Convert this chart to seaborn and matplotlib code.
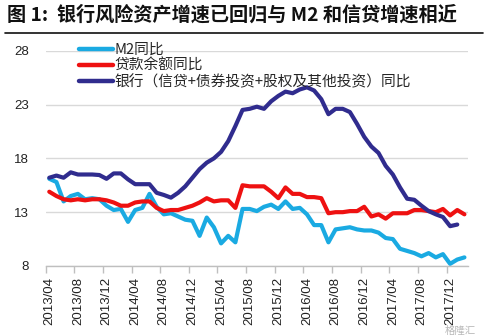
import numpy as np
import pandas as pd
import matplotlib
matplotlib.use("Agg")
import matplotlib.pyplot as plt
import seaborn as sns

# Monthly series, 2013/04 - 2018/02 (percent, year over year)
start_month = "2013-04"
end_month = "2018-02"

m2_yoy = [16.1, 15.8, 14.0, 14.5, 14.7, 14.2, 14.3, 14.2, 13.6, 13.2, 13.3, 12.1,
          13.2, 13.4, 14.7, 13.5, 12.8, 12.9, 12.6, 12.3, 12.2, 10.8, 12.5, 11.6,
          10.1, 10.8, 10.2, 13.3, 13.3, 13.1, 13.5, 13.7, 13.3, 14.0, 13.3, 13.4,
          12.8, 11.8, 11.8, 10.2, 11.4, 11.5, 11.6, 11.4, 11.3, 11.3, 11.1, 10.6,
          10.5, 9.6, 9.4, 9.2, 8.9, 9.2, 8.8, 9.1, 8.2, 8.6, 8.8]

loan_yoy = [14.9, 14.5, 14.2, 14.1, 14.2, 14.1, 14.2, 14.2, 14.1, 13.9, 13.6, 13.6,
            13.9, 14.0, 14.0, 13.4, 13.1, 13.2, 13.2, 13.4, 13.6, 13.9, 14.3, 14.0,
            14.1, 14.1, 13.4, 15.5, 15.4, 15.4, 15.4, 14.9, 14.3, 15.3, 14.7, 14.7,
            14.4, 14.4, 14.3, 12.9, 13.0, 13.0, 13.1, 13.1, 13.5, 12.6, 12.8, 12.4,
            12.9, 12.9, 12.9, 13.2, 13.2, 13.1, 13.0, 13.3, 12.7, 13.2, 12.8]

bank_assets_yoy = [16.2, 16.4, 16.2, 16.7, 16.5, 16.5, 16.5, 16.45, 16.1, 16.6, 16.6, 16.05,
                   15.6, 15.6, 15.6, 14.8, 14.6, 14.35, 14.8, 15.4, 16.2, 17.0, 17.6, 18.0,
                   18.6, 19.6, 21.0, 22.5, 22.6, 22.8, 22.6, 23.3, 23.8, 24.2, 24.05, 24.4,
                   24.6, 24.3, 23.5, 22.1, 22.6, 22.6, 22.3, 21.2, 20.0, 19.1, 18.5, 17.3,
                   16.5, 15.3, 14.25, 14.15, 13.6, 13.1, 12.8, 12.55, 11.7, 11.85]

series_names = ["M2同比", "贷款余额同比", "银行（信贷+债券投资+股权及其他投资）同比"]
series_colors = ["#1AAAE2", "#EE1111", "#302C8E"]
y_ticks = [8, 13, 18, 23, 28]
title_text = "图 1:  银行风险资产增速已回归与 M2 和信贷增速相近"

months = pd.period_range(start_month, end_month, freq="M")
month_labels = [p.strftime("%Y/%m") for p in months]

frames = []
for name, vals in zip(series_names, [m2_yoy, loan_yoy, bank_assets_yoy]):
    frames.append(pd.DataFrame({"idx": np.arange(len(vals)), "value": vals, "series": name}))
df = pd.concat(frames, ignore_index=True)

sns.set_theme(style="white")
plt.rcParams["font.family"] = ["Noto Sans CJK SC", "DejaVu Sans"]

fig = plt.figure(figsize=(4.85, 3.36), dpi=100)
ax = fig.add_axes([45.7 / 485, 1 - 266 / 336, (468 - 45.7) / 485, (266 - 50.7) / 336])

sns.lineplot(data=df, x="idx", y="value", hue="series", hue_order=series_names,
             palette=series_colors, linewidth=3.0, ax=ax, legend=False,
             solid_capstyle="round", solid_joinstyle="round")

ax.set_xlim(-0.5, len(months) - 0.5)
ax.set_ylim(8, 28)
ax.set_yticks(y_ticks)
ax.yaxis.grid(True, color="#D9D9D9", linewidth=1.0)
ax.set_axisbelow(True)
for s in ["left", "right", "top"]:
    ax.spines[s].set_visible(False)
ax.spines["bottom"].set_color("#BFBFBF")
ax.spines["bottom"].set_linewidth(1.0)

label_pos = np.arange(0, len(months), 4)
ax.set_xticks(label_pos)
ax.set_xticklabels([month_labels[i] for i in label_pos], rotation=90,
                   fontsize=9.5, family=["Liberation Sans", "DejaVu Sans"], color="#222222")
ax.set_xticks(label_pos - 0.5, minor=True)
ax.tick_params(axis="x", which="major", length=0, pad=8)
ax.tick_params(axis="x", which="minor", length=5, width=1.0, color="#BFBFBF", direction="out", bottom=True)
ax.tick_params(axis="y", length=0, pad=12, labelsize=9.5)
for t in ax.get_yticklabels():
    t.set_family(["Liberation Sans", "DejaVu Sans"])
    t.set_color("#222222")
ax.set_xlabel("")
ax.set_ylabel("")

handles = [plt.Line2D([], [], color=c, linewidth=3.2, solid_capstyle="round") for c in series_colors]
fig.legend(handles, series_names, loc="upper left", bbox_to_anchor=(79 / 485, 1 - 43 / 336),
           frameon=False, fontsize=10.6, handlelength=2.3, handletextpad=0.1,
           labelspacing=0.12, borderpad=0, borderaxespad=0)

fig.text(7 / 485, 1 - 15 / 336, title_text, fontsize=13.8, fontweight="bold",
         va="center", ha="left", color="#111111")
fig.add_artist(plt.Line2D([5 / 485, 483 / 485], [1 - 33 / 336, 1 - 33 / 336],
                          color="#111111", linewidth=1.2, transform=fig.transFigure))

fig.text(476 / 485, 1 - 331 / 336, "格隆汇", fontsize=7.5, color="#888888", alpha=0.6,
         ha="right", va="center")

fig.savefig("out.png", dpi=100)
